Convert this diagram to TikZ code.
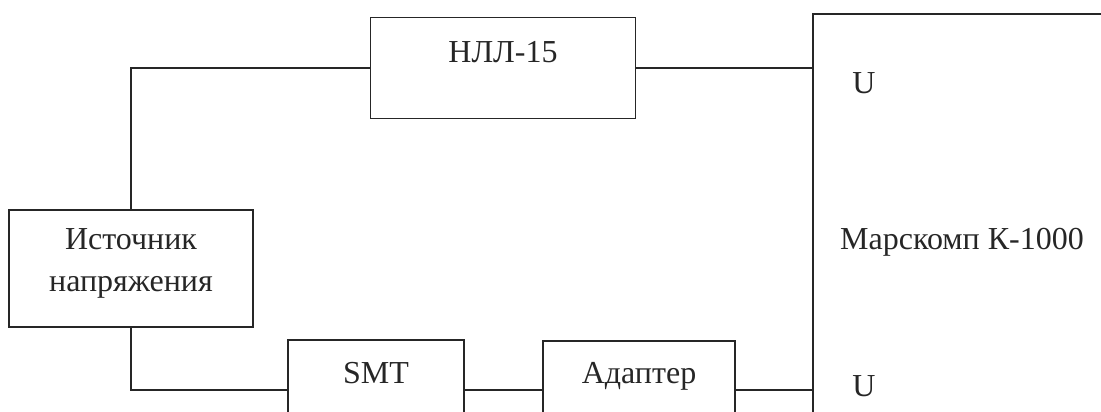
\documentclass[tikz,border=0pt]{standalone}
\usepackage{fontspec}
\setmainfont{Liberation Serif}
\usetikzlibrary{positioning}

\tikzset{
  block/.style={draw=black!85, line width=1.6pt, minimum width=#1, inner sep=0pt},
  wire/.style={draw=black!85, line width=1.6pt},
  txt/.style={text=black!85, font=\fontsize{32}{42}\selectfont, inner sep=0pt}
}

\begin{document}
\begin{tikzpicture}[x=1pt, y=-1pt]
  \useasboundingbox (0,0) rectangle (1101,412);
  \clip (0,0) rectangle (1101,412);

  % Define nodes
  \node[block=265, minimum height=101, label={[txt, anchor=center, yshift=-35]north:НЛЛ-15}]   (nll) at (503,68)  {};
  \node[block=244, minimum height=117]                                                        (src) at (131,268.5) {};
  \node[txt, align=center]                                                                    (srctext) at (131,263) {Источник\\напряжения};
  \node[block=176, minimum height=100, label={[txt, anchor=center, yshift=-34]north:SMT}]     (smt) at (376,390) {};
  \node[block=192, minimum height=98,  label={[txt, anchor=center, yshift=-36]north:Адаптер}] (adp) at (639,390) {};
  \node[block=320, minimum height=436]                                                        (mk)  at (973,232) {};
  \node[txt, anchor=west]                                                                     (mktext) at (840,242) {Марскомп К-1000};
  \node[txt]                                                                                  (u1) at (864,83)  {U};
  \node[txt]                                                                                  (u2) at (864,386) {U};

  % Connect the nodes
  \draw[wire] (src.north) |- (nll.west);
  \draw[wire] (nll.east) -- (nll.east -| mk.west);
  \draw[wire] (src.south) |- (smt.west);
  \draw[wire] (smt.east) -- (adp.west);
  \draw[wire] (adp.east) -- (adp.east -| mk.west);
\end{tikzpicture}
\end{document}
